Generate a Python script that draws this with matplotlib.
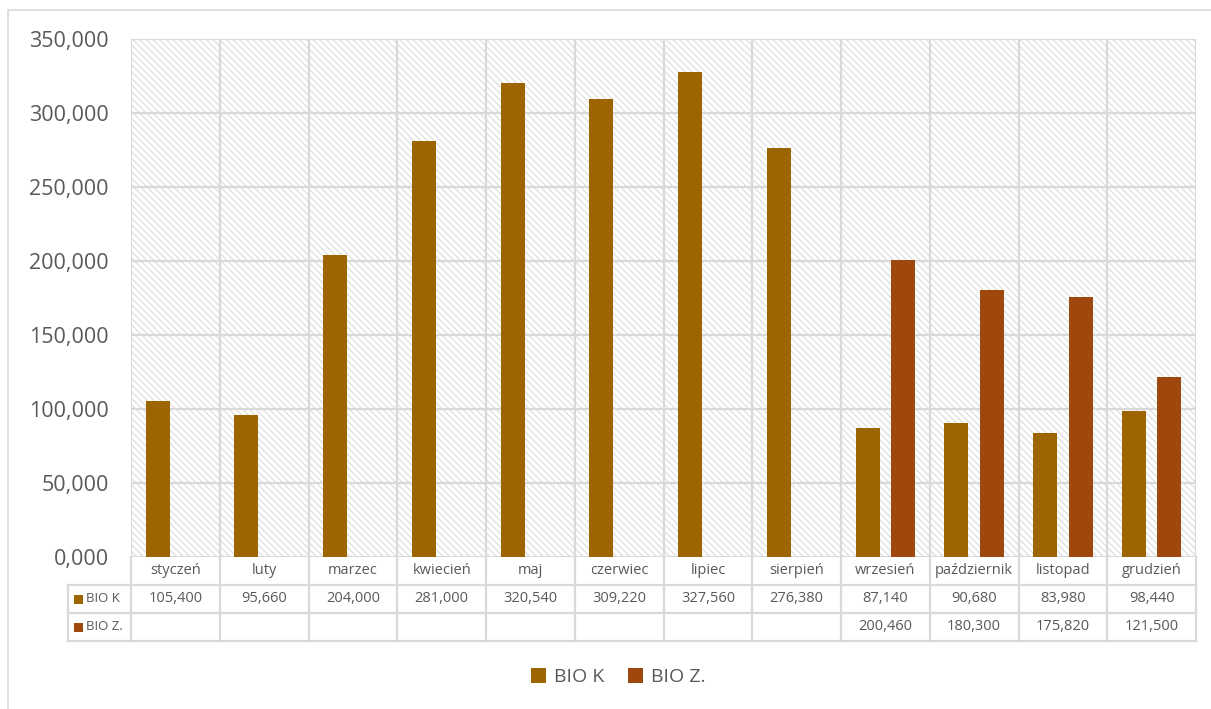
import matplotlib.pyplot as plt
import numpy as np
from matplotlib.patches import Rectangle, Patch

months = ["styczeń", "luty", "marzec", "kwiecień", "maj", "czerwiec", "lipiec",
          "sierpień", "wrzesień", "październik", "listopad", "grudzień"]
bio_k = [105.400, 95.660, 204.000, 281.000, 320.540, 309.220, 327.560,
         276.380, 87.140, 90.680, 83.980, 98.440]
bio_z = [None, None, None, None, None, None, None, None,
         200.460, 180.300, 175.820, 121.500]
series_names = ["BIO K", "BIO Z."]
colors = ["#9C6500", "#9E480E"]

plt.rcParams['font.family'] = ['Open Sans', 'DejaVu Sans']
plt.rcParams['hatch.linewidth'] = 0.9
plt.rcParams['hatch.color'] = '#dedede'

W, H = 1211, 709
fig = plt.figure(figsize=(W / 100, H / 100), dpi=100)
ax = fig.add_axes([131 / W, 1 - 557 / H, (1196 - 131) / W, (557 - 39) / H])

# outer chart border
fig.patches.append(Rectangle((8 / W, -0.01), 1.1, 1 - 10 / H + 0.01, transform=fig.transFigure,
                             fill=False, edgecolor='#d9d9d9', linewidth=1.2))

x = np.arange(len(months))
ax.set_xlim(-0.5, len(months) - 0.5)
ax.set_ylim(0, 350)

# hatched plot area
ax.add_patch(Rectangle((0, 0), 1, 1, transform=ax.transAxes, facecolor='white',
                       hatch='\\\\\\\\\\', edgecolor='#dedede', linewidth=0, zorder=0))

grid_c = '#d9d9d9'
for yv in np.arange(0, 351, 50):
    ax.axhline(yv, color=grid_c, linewidth=1.6, zorder=1)
for xv in np.arange(-0.5, len(months), 1):
    ax.axvline(xv, color=grid_c, linewidth=1.6, zorder=1)

bw = 0.27
k_vals = np.array(bio_k)
z_vals = np.array([v if v is not None else np.nan for v in bio_z])
ax.bar(x - 0.2, k_vals, width=bw, color=colors[0], zorder=3)
ax.bar(x + 0.2, z_vals, width=bw, color=colors[1], zorder=3)


def fmt(v):
    # Polish style: comma decimal, three decimals
    return f"{v:.3f}".replace('.', ',')


ax.set_yticks(np.arange(0, 351, 50))
ax.set_yticklabels([fmt(v) for v in np.arange(0, 351, 50)], fontsize=15.5, color='#595959')
ax.tick_params(axis='y', length=0, pad=16)
ax.set_xticks([])
for s in ax.spines.values():
    s.set_visible(False)

# data table below the plot
tr = ax.get_xaxis_transform()
rh = 28 / 518
left = -0.5 - (131 - 68) / 88.75
right = len(months) - 0.5
lk = dict(color=grid_c, linewidth=1.6, clip_on=False, transform=tr)
ax.plot([left, right], [-rh, -rh], **lk)
ax.plot([left, right], [-2 * rh, -2 * rh], **lk)
ax.plot([left, right], [-3 * rh, -3 * rh], **lk)
ax.plot([left, left], [-rh, -3 * rh], **lk)
for xv in np.arange(-0.5, len(months), 1):
    ax.plot([xv, xv], [0, -3 * rh], **lk)

tk = dict(transform=tr, ha='center', va='center', fontsize=10.5, color='#595959', clip_on=False)
for i, m in enumerate(months):
    ax.text(i, -0.5 * rh, m, **tk)
    ax.text(i, -1.5 * rh, fmt(bio_k[i]), **tk)
    if bio_z[i] is not None:
        ax.text(i, -2.5 * rh, fmt(bio_z[i]), **tk)

for r, (name, c) in enumerate(zip(series_names, colors)):
    yc = -(1.5 + r) * rh
    ax.add_patch(Rectangle((left + 6 / 88.75, yc - 4.5 / 518), 9 / 88.75, 9 / 518,
                           transform=tr, facecolor=c, edgecolor='none', clip_on=False))
    ax.text(left + 18 / 88.75, yc, name, transform=tr, ha='left', va='center',
            fontsize=9.5, color='#595959', clip_on=False)

handles = [Patch(facecolor=c, label=n) for n, c in zip(series_names, colors)]
leg = fig.legend(handles=handles, loc='center', bbox_to_anchor=(618 / W, 1 - 677 / H),
                 ncol=2, frameon=False, fontsize=14, handlelength=0.8, handleheight=0.8,
                 handletextpad=0.4, columnspacing=1.2)
for t in leg.get_texts():
    t.set_color('#595959')

fig.savefig("out.png", dpi=100)
